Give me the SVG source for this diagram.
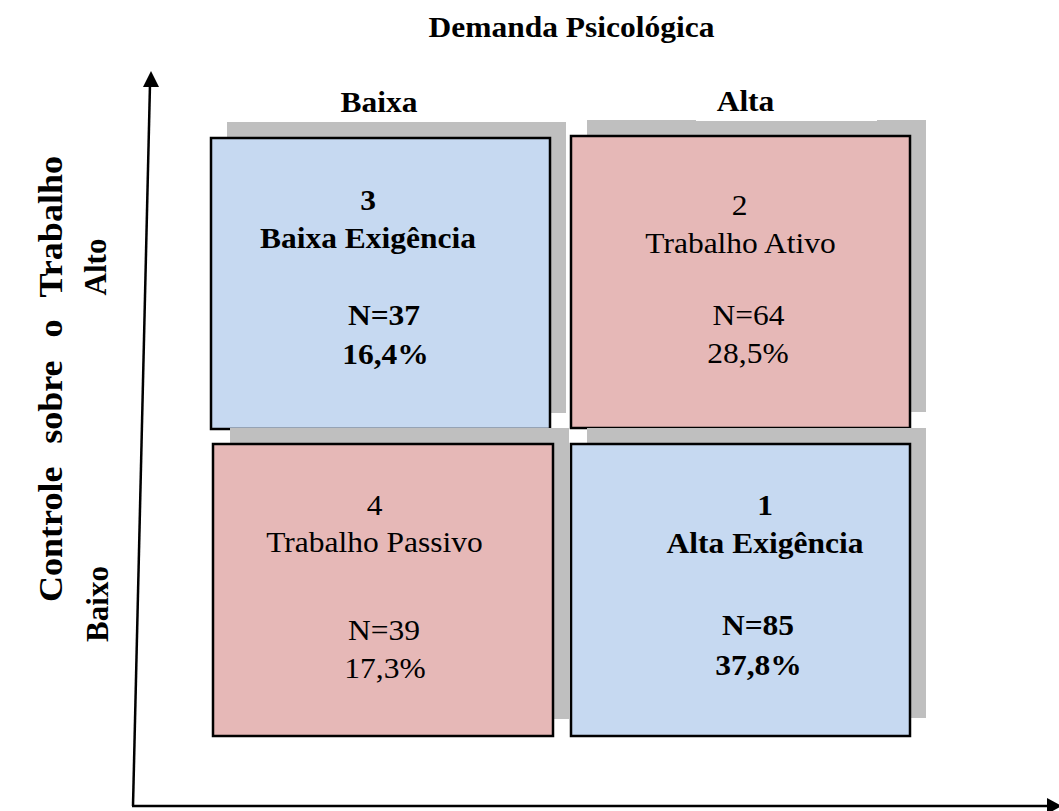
<svg xmlns="http://www.w3.org/2000/svg" width="1059" height="811" viewBox="0 0 1059 811">
<style>
.t{font-family:"Liberation Serif","Times New Roman",serif;font-size:30px;text-anchor:middle;fill:#000}
.b{font-weight:bold}
.sh{fill:#BFBFBF}
.blue{fill:#C6D9F1;stroke:#000;stroke-width:2.5}
.pink{fill:#E6B8B7;stroke:#000;stroke-width:2.5}
.ax{stroke:#000;stroke-width:2.5;fill:none}
</style>
<rect width="1059" height="811" fill="#fff"/>
<g id="connectors">
<line class="ax" x1="133" y1="806" x2="150" y2="84"/>
<polygon points="151,71 143,87 159,87" fill="#000"/>
<line class="ax" x1="132" y1="806" x2="1048" y2="806"/>
<polygon points="1062,806 1047,798 1047,814" fill="#000"/>
</g>
<g id="title">
<text class="t b" transform="translate(571.5,37) scale(1.05,1)">Demanda Psicológica</text>
</g>
<g id="col-labels">
<text class="t b" transform="translate(379,112) scale(1.05,1)">Baixa</text>
</g>
<g id="row-labels">
<text class="t b" transform="translate(62,379) rotate(-90) scale(1.06,1)" style="font-size:34px;word-spacing:13px">Controle sobre o Trabalho</text>
<text class="t b" transform="translate(106,267) rotate(-90)" style="font-size:31px">Alto</text>
<text class="t b" transform="translate(108,604) rotate(-90)" style="font-size:31px">Baixo</text>
</g>
<g id="box-tl">
<rect class="sh" x="227" y="122" width="339" height="291"/>
<rect class="blue" x="211" y="138" width="339" height="291"/>
<text class="t b" transform="translate(368,210) scale(1.05,1)">3</text>
<text class="t b" transform="translate(368,248) scale(1.05,1)">Baixa Exigência</text>
<text class="t b" transform="translate(384,325) scale(1.05,1)">N=37</text>
<text class="t b" transform="translate(385.5,364) scale(1.05,1)">16,4%</text>
</g>
<g id="box-tr">
<rect class="sh" x="587" y="120" width="339" height="292"/>
<rect x="696" y="80" width="181" height="41" fill="#fff"/>
<text class="t b" transform="translate(745.5,111) scale(1.05,1)">Alta</text>
<rect class="pink" x="571" y="136" width="339" height="292"/>
<text class="t" transform="translate(739.5,215) scale(1.05,1)">2</text>
<text class="t" transform="translate(740.5,253) scale(1.05,1)">Trabalho Ativo</text>
<text class="t" transform="translate(748.5,325) scale(1.05,1)">N=64</text>
<text class="t" transform="translate(748,363) scale(1.05,1)">28,5%</text>
</g>
<g id="box-bl">
<rect class="sh" x="230" y="428" width="339" height="291"/>
<rect class="pink" x="213" y="444" width="340" height="292"/>
<text class="t" transform="translate(374.5,515) scale(1.05,1)">4</text>
<text class="t" transform="translate(374.5,552) scale(1.05,1)">Trabalho Passivo</text>
<text class="t" transform="translate(384,640) scale(1.05,1)">N=39</text>
<text class="t" transform="translate(385,678) scale(1.05,1)">17,3%</text>
</g>
<g id="box-br">
<rect class="sh" x="587" y="428" width="339" height="290"/>
<rect class="blue" x="571" y="444" width="339" height="292"/>
<text class="t b" transform="translate(765,515) scale(1.05,1)">1</text>
<text class="t b" transform="translate(765,553) scale(1.05,1)">Alta Exigência</text>
<text class="t b" transform="translate(758,635) scale(1.05,1)">N=85</text>
<text class="t b" transform="translate(758.5,675) scale(1.05,1)">37,8%</text>
</g>
</svg>
